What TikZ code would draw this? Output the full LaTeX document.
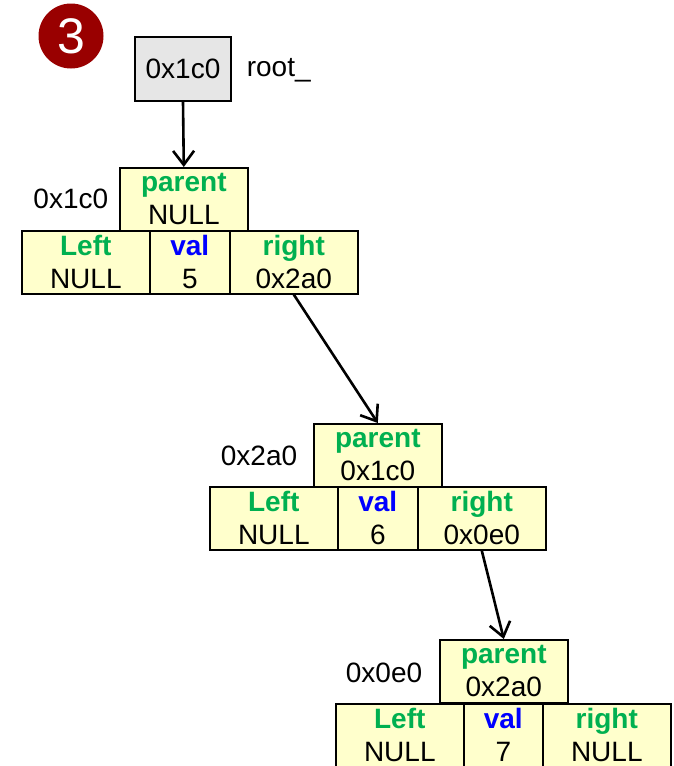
\documentclass[tikz,border=0pt]{standalone}
\usepackage{fontspec}
\setmainfont{Liberation Sans}
\usepackage{tikz}
\usetikzlibrary{arrows.meta}
\definecolor{fieldgreen}{RGB}{0,176,80}
\definecolor{valblue}{RGB}{0,0,255}
\definecolor{cellyellow}{RGB}{255,255,204}
\definecolor{rootgray}{RGB}{230,230,230}
\definecolor{badgered}{RGB}{153,0,0}

\begin{document}
\begin{tikzpicture}[x=1pt,y=-1pt,line width=1.6pt,
  txt/.style={font=\fontsize{28}{33}\selectfont},
  cell/.style={txt,draw,fill=cellyellow,anchor=north west,align=center,
    minimum height=63pt,inner sep=0pt},
  wide/.style={cell,minimum width=128pt},
  narrow/.style={cell,minimum width=80pt},
  addr/.style={txt,inner sep=0pt,anchor=east},
  ptr/.style={draw,line width=2.6pt,-{Straight Barb[length=14pt,width=21pt]}}]
\useasboundingbox (0,0) rectangle (673,766);

% badge
\node[circle,fill=badgered,minimum size=65pt,inner sep=0pt,text=white,
  font=\fontsize{50}{50}\selectfont] (badge) at (71,36) {3};

% root pointer
\node[txt,draw,fill=rootgray,minimum width=96pt,minimum height=64pt,
  inner sep=0pt] (root) at (183,69) {0x1c0};
\node[txt,inner sep=0pt,anchor=west] (rootname) at (246,70) {root\_};

% node 0x1c0
\node[wide] (p1) at (119,167) {\textcolor{fieldgreen}{\textbf{parent}}\\NULL};
\node[wide] (l1) at (21,230) {\textcolor{fieldgreen}{\textbf{Left}}\\NULL};
\node[narrow] (v1) at (149,230) {\textcolor{valblue}{\textbf{val}}\\5};
\node[wide] (r1) at (229,230) {\textcolor{fieldgreen}{\textbf{right}}\\0x2a0};
\node[addr] (a1) at (109,199) {0x1c0};

% node 0x2a0
\node[wide] (p2) at (313,423) {\textcolor{fieldgreen}{\textbf{parent}}\\0x1c0};
\node[wide] (l2) at (209,486) {\textcolor{fieldgreen}{\textbf{Left}}\\NULL};
\node[narrow] (v2) at (337,486) {\textcolor{valblue}{\textbf{val}}\\6};
\node[wide] (r2) at (417,486) {\textcolor{fieldgreen}{\textbf{right}}\\0x0e0};
\node[addr] (a2) at (298,456) {0x2a0};

% node 0x0e0
\node[wide] (p3) at (439,639) {\textcolor{fieldgreen}{\textbf{parent}}\\0x2a0};
\node[wide] (l3) at (335,703) {\textcolor{fieldgreen}{\textbf{Left}}\\NULL};
\node[narrow,minimum width=79pt] (v3) at (463,703) {\textcolor{valblue}{\textbf{val}}\\7};
\node[wide] (r3) at (542,703) {\textcolor{fieldgreen}{\textbf{right}}\\NULL};
\node[addr] (a3) at (423,673) {0x0e0};

% links
\draw[ptr] (root.south) -- (p1.north);
\draw[ptr] (r1.south) -- (p2.north);
\draw[ptr] (r2.south) -- (p3.north);
\end{tikzpicture}
\end{document}
